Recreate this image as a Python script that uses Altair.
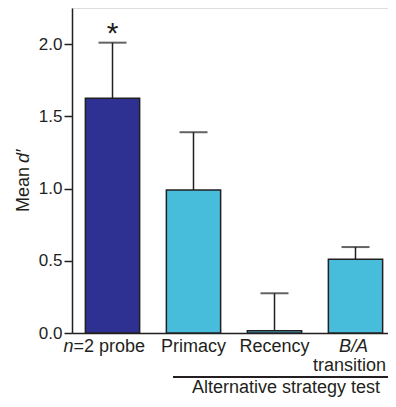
import altair as alt
import pandas as pd

categories = ["n=2 probe", "Primacy", "Recency", "B/A transition"]
means = [1.625, 0.99, 0.015, 0.51]
err_upper = [2.01, 1.39, 0.275, 0.595]
groups = ["probe", "alt", "alt", "alt"]
y_ticks = [0.0, 0.5, 1.0, 1.5, 2.0]

df = pd.DataFrame({"cat": categories, "mean": means, "upper": err_upper, "group": groups})

FONT = "Liberation Sans"
INK = "#231f20"

xscale = alt.Scale(paddingInner=0.33, paddingOuter=0.165, range=[0, 324])
xenc = alt.X("cat:N", sort=categories, title=None, scale=xscale,
             axis=alt.Axis(labels=False, ticks=False, domain=True, domainColor=INK, domainWidth=1.5))
yscale = alt.Scale(domain=[0, 2.25], nice=False)

base = alt.Chart(df)

bars = base.mark_bar(stroke=INK, strokeWidth=1.5).encode(
    x=xenc,
    y=alt.Y("mean:Q", scale=yscale, title=None,
            axis=alt.Axis(values=y_ticks, format=".1f", grid=False, tickSize=8,
                          tickColor=INK, tickWidth=1.5, domainColor=INK, domainWidth=1.5,
                          labelFontSize=17, labelFont=FONT, labelColor=INK, labelPadding=2)),
    color=alt.Color("group:N", scale=alt.Scale(domain=["probe", "alt"], range=["#2e3192", "#47bcdb"]), legend=None),
)

rules = base.mark_rule(color=INK, strokeWidth=1.5).encode(
    x=alt.X("cat:N", sort=categories), y="mean:Q", y2="upper:Q")
caps = base.mark_tick(color=INK, size=28, thickness=2).encode(
    x=alt.X("cat:N", sort=categories), y="upper:Q")

star = alt.Chart(df[df["cat"] == "n=2 probe"]).mark_text(
    text="*", fontSize=30, font=FONT, baseline="alphabetic", color=INK, dy=0
).encode(x=alt.X("cat:N", sort=categories), y="upper:Q")

# x labels
lab_df = pd.DataFrame({
    "cat": ["n=2 probe", "n=2 probe", "Primacy", "Recency", "B/A transition", "B/A transition"],
    "txt": ["n", "=2 probe", "Primacy", "Recency", "B/A", "transition"],
    "style": ["italic", "normal", "normal", "normal", "italic", "normal"],
    "align": ["right", "left", "center", "center", "center", "center"],
    "dx": [-39, -39, 0, 0, -2, -6],
    "line": [0, 0, 0, 0, 0, 1],
})

label_layers = []
for i, r in lab_df.iterrows():
    label_layers.append(
        alt.Chart(lab_df.iloc[[i]]).mark_text(
            font=FONT, fontSize=18, color=INK, fontStyle=r["style"], align=r["align"],
            baseline="middle", dx=int(r["dx"])
        ).encode(x=alt.X("cat:N", sort=categories), y=alt.value(339 + 19 * int(r["line"])), text="txt:N")
    )

group_rule = alt.Chart(df).mark_rule(color=INK, strokeWidth=1.5).encode(
    x=alt.value(101), x2=alt.value(330), y=alt.value(369))
group_text = alt.Chart(pd.DataFrame({"t": ["Alternative strategy test"]})).mark_text(
    font=FONT, fontSize=18, color=INK, align="center", baseline="middle"
).encode(x=alt.value(214), y=alt.value(380), text="t:N")

ytitle1 = alt.Chart(pd.DataFrame({"t": ["Mean "]})).mark_text(
    font=FONT, fontSize=18, color=INK, angle=270, align="left", baseline="alphabetic"
).encode(x=alt.value(-43), y=alt.value(204), text="t:N")
ytitle2 = alt.Chart(pd.DataFrame({"t": ["d′"]})).mark_text(
    font=FONT, fontSize=18, color=INK, angle=270, align="left", baseline="alphabetic", fontStyle="italic"
).encode(x=alt.value(-43), y=alt.value(155), text="t:N")

chart = alt.layer(bars, rules, caps, star, *label_layers, group_rule, group_text, ytitle1, ytitle2).properties(
    width=316, height=325,
    autosize=alt.AutoSizeParams(type="none"),
    padding={"left": 64, "top": 0, "right": 0, "bottom": 66},
).configure_view(stroke=None).configure(background="white")

chart.save("out.html", embed_options={"renderer": "svg", "actions": False})
